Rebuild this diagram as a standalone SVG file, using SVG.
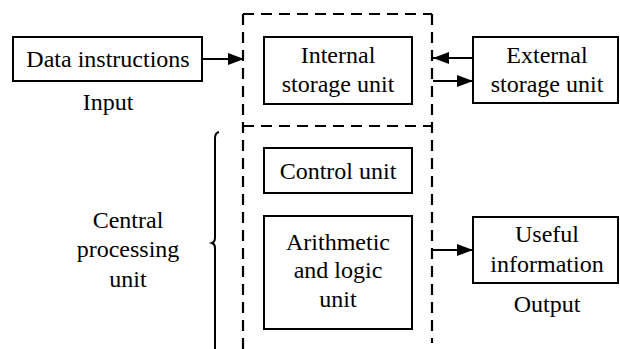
<svg xmlns="http://www.w3.org/2000/svg" width="620" height="349" viewBox="0 0 620 349">
<defs>
<style>
.box{fill:#fff;stroke:#000;stroke-width:2}
.dash{fill:none;stroke:#000;stroke-width:2.2;stroke-dasharray:11 7}
.ln{fill:none;stroke:#000;stroke-width:2}
.t{font-family:'Liberation Serif','DejaVu Serif',serif;font-size:24px;fill:#000;text-anchor:middle}
</style>
<marker id="ah" viewBox="0 0 16 12" refX="16" refY="6" markerWidth="16" markerHeight="12" markerUnits="userSpaceOnUse" orient="auto">
<path d="M0,0 L16,6 L0,12 Z" fill="#000"/>
</marker>
</defs>
<rect width="620" height="349" fill="#fff"/>
<g id="cpu-boundary">
<path class="dash" d="M243,14 H432 M243,126 H432 M243,14 V349 M432,14 V343"/>
</g>
<g id="data-instructions">
<rect class="box" x="13" y="37" width="189" height="44"/>
<text class="t" x="108" y="67">Data instructions</text>
<text class="t" x="108" y="110">Input</text>
</g>
<g id="internal-storage">
<rect class="box" x="264" y="37" width="148" height="67"/>
<text class="t" x="338" y="63">Internal</text>
<text class="t" x="338" y="92">storage unit</text>
</g>
<g id="external-storage">
<rect class="box" x="473" y="37" width="145" height="66"/>
<text class="t" x="547" y="63">External</text>
<text class="t" x="547" y="92">storage unit</text>
</g>
<g id="control-unit">
<rect class="box" x="264" y="148" width="148" height="45"/>
<text class="t" x="338" y="179">Control unit</text>
</g>
<g id="alu">
<rect class="box" x="264" y="216" width="148" height="113"/>
<text class="t" x="338" y="250">Arithmetic</text>
<text class="t" x="338" y="278">and logic</text>
<text class="t" x="338" y="307">unit</text>
</g>
<g id="useful-information">
<rect class="box" x="473" y="217" width="145" height="66"/>
<text class="t" x="547" y="242">Useful</text>
<text class="t" x="547" y="272">information</text>
<text class="t" x="547" y="312">Output</text>
</g>
<g id="cpu-label">
<path class="ln" d="M219,132 Q215,133 215,138 V238 Q215,242 212,243 Q215,244 215,248 V349"/>
<text class="t" x="128" y="228">Central</text>
<text class="t" x="128" y="257">processing</text>
<text class="t" x="128" y="287">unit</text>
</g>
<g id="connectors">
<line class="ln" x1="202" y1="59" x2="244" y2="59" marker-end="url(#ah)"/>
<line class="ln" x1="473" y1="58" x2="433" y2="58" marker-end="url(#ah)"/>
<line class="ln" x1="433" y1="81" x2="473" y2="81" marker-end="url(#ah)"/>
<line class="ln" x1="433" y1="250" x2="473" y2="250" marker-end="url(#ah)"/>
</g>
</svg>
